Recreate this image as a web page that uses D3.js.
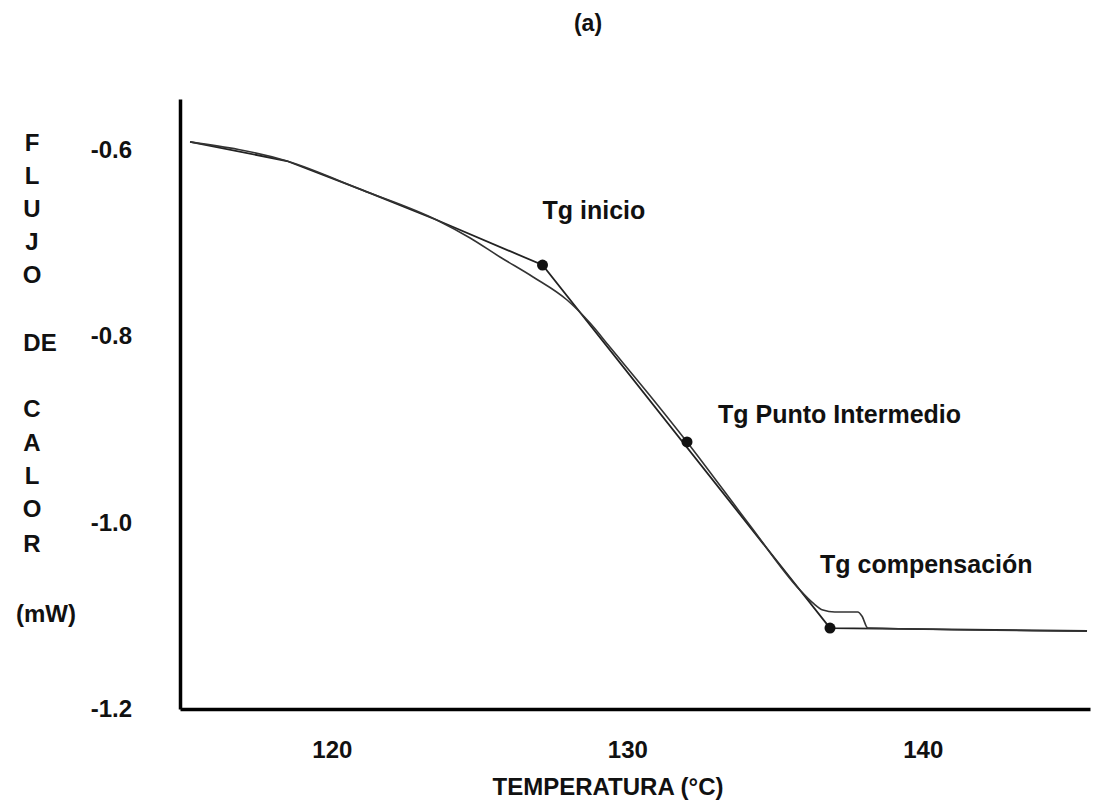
<!DOCTYPE html>
<html>
<head>
<meta charset="utf-8">
<script src="https://cdn.jsdelivr.net/npm/d3@7"></script>
<style>
  html, body { margin: 0; padding: 0; background: #fff; }
  svg { display: block; }
  text { font-family: "Liberation Sans", Arial, sans-serif; font-weight: bold; fill: #111; }
</style>
</head>
<body>
<svg id="chart" width="1099" height="804"></svg>
<script>
// DSC heat-flow curve (temperature in °C, heat flow in mW)
const dscTemp = [115.20, 118.48, 121.02, 123.55, 124.68, 125.69, 126.81, 127.96, 128.74, 129.41,
                 130.75, 132.02, 134.14, 135.84, 136.28, 136.62, 137.02, 137.80, 137.94, 138.14, 145.56];
const dscFlow = [-0.592, -0.6125, -0.6435, -0.6757, -0.695, -0.7154, -0.7368, -0.7615, -0.7862, -0.8119,
                 -0.8633, -0.9137, -1.0027, -1.0724, -1.0863, -1.0939, -1.096, -1.096, -1.1003, -1.1132, -1.1164];

// Baseline / tangent construction used to locate Tg
const tangentTemp = [115.20, 118.48, 121.02, 123.55, 127.13, 136.86, 145.56];
const tangentFlow = [-0.592, -0.6125, -0.6435, -0.6757, -0.724, -1.1132, -1.1164];

// Characteristic glass-transition points
const markerTemp = [127.13, 132.02, 136.86];
const markerFlow = [-0.724, -0.9137, -1.1132];
const markerNames = ["Tg inicio", "Tg Punto Intermedio", "Tg compensación"];

// Axis ticks
const xTicks = [120, 130, 140];
const yTicks = [-0.6, -0.8, -1.0, -1.2];
const yTitleLetters = ["F", "L", "U", "J", "O", "DE", "C", "A", "L", "O", "R", "(mW)"];

const svg = d3.select("#chart");

const x = d3.scaleLinear().domain([114.86, 145.66]).range([180, 1090]);
const y = d3.scaleLinear().domain([-1.2, -0.546]).range([709, 99]);

// Title
svg.append("text")
  .attr("x", 588).attr("y", 31)
  .attr("text-anchor", "middle")
  .style("font-size", "23px")
  .text("(a)");

// Axes (no tick marks, labels only)
const xAxis = svg.append("g")
  .attr("transform", `translate(0,${y(-1.2)})`)
  .call(d3.axisBottom(x).tickValues(xTicks).tickSize(0).tickPadding(32).tickFormat(d3.format("d")));
const yAxis = svg.append("g")
  .attr("transform", `translate(${x(114.86)},0)`)
  .call(d3.axisLeft(y).tickValues(yTicks).tickSize(0).tickPadding(48).tickFormat(d => d.toFixed(1)));

[xAxis, yAxis].forEach(g => {
  g.select(".domain").attr("stroke", "#000").attr("stroke-width", 3.5);
  g.selectAll(".tick text")
    .attr("fill", "#111")
    .style("font-family", '"Liberation Sans", Arial, sans-serif')
    .style("font-weight", "bold")
    .style("font-size", "24px");
});

// Axis titles
svg.append("text")
  .attr("x", 608).attr("y", 795)
  .attr("text-anchor", "middle")
  .style("font-size", "24px")
  .text("TEMPERATURA (°C)");

const yTitleBaselines = [151, 184, 217, 250, 283, 351, 417, 451, 484, 517, 552, 622];
svg.append("g").selectAll("text")
  .data(yTitleLetters)
  .join("text")
  .attr("x", d => d === "DE" ? 40 : (d === "(mW)" ? 46 : 32))
  .attr("y", (d, i) => yTitleBaselines[i])
  .attr("text-anchor", "middle")
  .style("font-size", "24px")
  .text(d => d);

// Curves
const dscData = dscTemp.map((t, i) => [t, dscFlow[i]]);
const tangentData = tangentTemp.map((t, i) => [t, tangentFlow[i]]);

svg.append("path")
  .datum(tangentData)
  .attr("fill", "none")
  .attr("stroke", "#222")
  .attr("stroke-width", 1.8)
  .attr("d", d3.line().x(d => x(d[0])).y(d => y(d[1])));

svg.append("path")
  .datum(dscData)
  .attr("fill", "none")
  .attr("stroke", "#333")
  .attr("stroke-width", 1.6)
  .attr("d", d3.line().x(d => x(d[0])).y(d => y(d[1])).curve(d3.curveMonotoneX));

// Markers and their labels
const labelOffsets = [[0, -46], [31, -19], [-10, -55]];
const markers = markerTemp.map((t, i) => ({ t, v: markerFlow[i], name: markerNames[i], off: labelOffsets[i] }));

svg.append("g").selectAll("circle")
  .data(markers)
  .join("circle")
  .attr("cx", d => x(d.t))
  .attr("cy", d => y(d.v))
  .attr("r", 5.5)
  .attr("fill", "#111");

svg.append("g").selectAll("text")
  .data(markers)
  .join("text")
  .attr("x", d => x(d.t) + d.off[0])
  .attr("y", d => y(d.v) + d.off[1])
  .style("font-size", "25px")
  .text(d => d.name);
</script>
</body>
</html>
